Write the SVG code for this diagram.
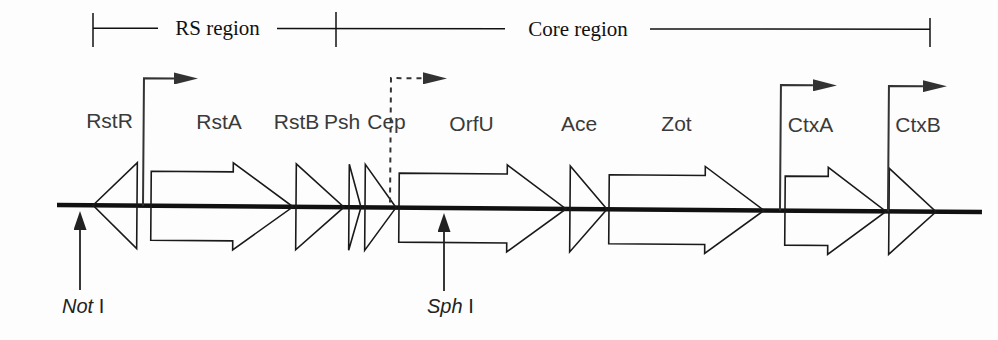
<svg xmlns="http://www.w3.org/2000/svg" width="998" height="340" viewBox="0 0 998 340">
<defs>
<style>
.gene{fill:none;stroke:#1a1a1a;stroke-width:1.6;stroke-linejoin:miter}
.lbl{font-family:"Liberation Sans",Arial,sans-serif;font-size:21px;fill:#3a3a3a;text-anchor:middle}
.reg{font-family:"Liberation Serif","Times New Roman",serif;font-size:21px;fill:#111;text-anchor:middle}
.site{font-family:"Liberation Sans",Arial,sans-serif;font-size:20px;fill:#222}
.br{stroke:#111;stroke-width:1.5;fill:none}
.prom{stroke:#333;stroke-width:2;fill:none;marker-end:url(#ph)}
.dash{stroke-dasharray:5,5}
.cut{stroke:#222;stroke-width:1.8;fill:none;marker-end:url(#rh)}
</style>
<marker id="ph" viewBox="0 0 24 12" refX="0" refY="6" markerWidth="24" markerHeight="12" markerUnits="userSpaceOnUse" orient="auto">
<path d="M0,0 L24,6 L0,12 z" fill="#333"/>
</marker>
<marker id="rh" viewBox="0 0 19 13" refX="0" refY="6.5" markerWidth="19" markerHeight="13" markerUnits="userSpaceOnUse" orient="auto">
<path d="M0,0 L19,6.5 L0,13 z" fill="#222"/>
</marker>
</defs>
<rect width="998" height="340" fill="#fdfdfd"/>

<g id="regions">
<line class="br" x1="93" y1="13" x2="93" y2="47"/>
<line class="br" x1="93" y1="28.3" x2="158" y2="28.3"/>
<text class="reg" x="217.5" y="35">RS region</text>
<line class="br" x1="277" y1="28.5" x2="505" y2="28.8"/>
<line class="br" x1="336" y1="12" x2="336" y2="47"/>
<text class="reg" x="578" y="35.5">Core region</text>
<line class="br" x1="650" y1="29" x2="930" y2="29.3"/>
<line class="br" x1="930" y1="18" x2="930" y2="47"/>
</g>

<g transform="rotate(0.44 57 205)">
<g id="backbone">
<line x1="57" y1="205" x2="982" y2="205" stroke="#111" stroke-width="4.5"/>
</g>
<g id="RstR"><polygon class="gene" points="93,205 137,162 137,248"/></g>
<g id="RstA"><polygon class="gene" points="151,170.5 233,170.5 233,161.5 293,205 233,248.5 233,239.5 151,239.5"/></g>
<g id="RstB"><polygon class="gene" points="296,162 344,205 296,248"/></g>
<g id="Psh"><polygon class="gene" points="349,162 361,205 349,248"/></g>
<g id="Cep"><polygon class="gene" points="365,162 396,205 365,248"/></g>
<g id="OrfU"><polygon class="gene" points="399,170.5 507,170.5 507,161.5 566,205 507,248.5 507,239.5 399,239.5"/></g>
<g id="Ace"><polygon class="gene" points="570,162 607,205 570,248"/></g>
<g id="Zot"><polygon class="gene" points="609,170.5 705,170.5 705,161.5 764,205 705,248.5 705,239.5 609,239.5"/></g>
<g id="CtxA"><polygon class="gene" points="785,170.5 828,170.5 828,161.5 886,205 828,248.5 828,239.5 785,239.5"/></g>
<g id="CtxB"><polygon class="gene" points="889,162 936,205 889,248"/></g>
<g id="connectors">
<path class="prom" d="M143,205 V77.5 H173"/>
<path class="prom dash" d="M390,200 V75.5 H422"/>
<path class="prom" d="M780,205 V79.5 H812"/>
<path class="prom" d="M888,205 V79.5 H922"/>
</g>
</g>

<g id="sites">
<line class="cut" x1="80" y1="290" x2="80" y2="230"/>
<line class="cut" x1="444" y1="291" x2="444" y2="232"/>
</g>

<g id="labels">
<text class="lbl" x="109.5" y="128">RstR</text>
<text class="lbl" x="219" y="128.5">RstA</text>
<text class="lbl" x="296.5" y="129">RstB</text>
<text class="lbl" x="342" y="129">Psh</text>
<text class="lbl" x="386.5" y="129">Cep</text>
<text class="lbl" x="471.5" y="131">OrfU</text>
<text class="lbl" x="579" y="131">Ace</text>
<text class="lbl" x="676.5" y="131">Zot</text>
<text class="lbl" x="810.5" y="132">CtxA</text>
<text class="lbl" x="918" y="132">CtxB</text>
<text class="site" x="62" y="313"><tspan font-style="italic">Not</tspan> I</text>
<text class="site" x="427" y="313"><tspan font-style="italic">Sph</tspan> I</text>
</g>
</svg>
